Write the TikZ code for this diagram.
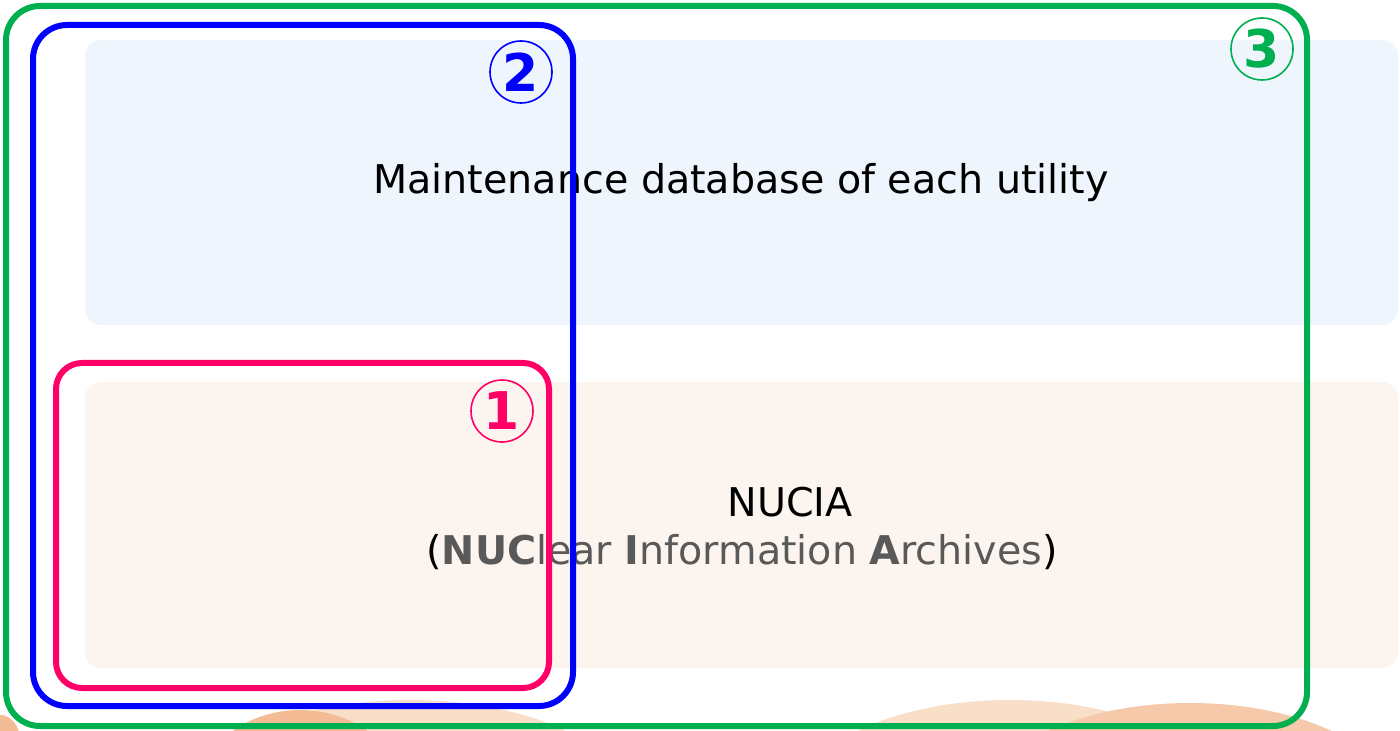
\documentclass[tikz,border=0pt]{standalone}
\usepackage{fontspec}
\setmainfont{DejaVu Sans}
\usetikzlibrary{positioning}

\definecolor{greenframe}{HTML}{00B050}
\definecolor{blueframe}{HTML}{0000FF}
\definecolor{pinkframe}{HTML}{FF0066}
\definecolor{bandblue}{HTML}{EEF5FC}
\definecolor{bandpeach}{HTML}{FCF4EE}
\definecolor{textgray}{HTML}{595959}
\definecolor{wavelight}{HTML}{F9DEC8}
\definecolor{wavedark}{HTML}{F3BC94}

\begin{document}
\begin{tikzpicture}[x=0.5pt, y=-0.5pt,
  band/.style={draw=none, rounded corners=8pt},
  frame/.style={line width=3pt, rounded corners=17pt},
  num/.style={circle, draw, line width=0.8pt, inner sep=0pt, minimum size=31pt, font=\fontsize{26}{26}\selectfont\bfseries},
  label/.style={font=\fontsize{19.8}{24}\selectfont, inner sep=0pt},
  ]

  \useasboundingbox (0,0) rectangle (1400,731);

  % waves at the bottom
  \fill[wavelight] (410,800) ellipse (215 and 100);
  \fill[wavedark] (300,810) ellipse (110 and 100);
  \fill[wavelight] (1010,805) ellipse (215 and 105);
  \fill[wavedark!80!white] (1190,810) ellipse (210 and 107);
  \fill[wavedark] (0,740) ellipse (20 and 25);

  % the two bands
  \fill[band, bandblue] (85,40) rectangle (1398,325);
  \fill[band, bandpeach] (85,382) rectangle (1398,668);

  \node[label] (maint) at (741,183) {Maintenance database of each utility};
  \node[label] (nucia) at (790,502) {NUCIA};
  \node[label] (archive) at (742,552)
    {(\textcolor{textgray}{\textbf{NUC}lear \textbf{I}nformation \textbf{A}rchives})};

  % frames
  \draw[frame, greenframe] (6,6) rectangle (1307,726);
  \draw[frame, blueframe] (33,25) rectangle (573,706);
  \draw[frame, pinkframe, rounded corners=13pt] (56,363) rectangle (549,688);

  \node[num, pinkframe] (one) at (502,411) {1};
  \node[num, blueframe] (two) at (521,72) {2};
  \node[num, greenframe] (three) at (1262,49) {3};

\end{tikzpicture}
\end{document}
